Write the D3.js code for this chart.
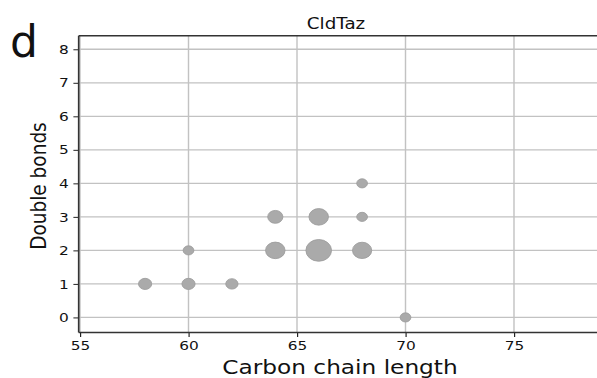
<!DOCTYPE html>
<html>
<head>
<meta charset="utf-8">
<script src="https://cdn.jsdelivr.net/npm/d3@7/dist/d3.min.js"></script>
<style>
  html, body { margin: 0; padding: 0; background: #fff; }
  svg { display: block; }
  text { font-family: "DejaVu Sans", sans-serif; fill: #111; }
</style>
</head>
<body>
<svg id="chart" width="597" height="378"></svg>
<script>
// Lipid species: carbon chain length, number of double bonds, relative abundance
const chainLength = [58, 60, 60, 62, 64, 64, 66, 66, 68, 68, 68, 70];
const doubleBonds = [1, 1, 2, 1, 2, 3, 2, 3, 2, 3, 4, 0];
const abundance   = [1.5, 1.5, 1.0, 1.3, 3.3, 2.0, 5.7, 3.3, 3.2, 1.0, 1.0, 1.0];

const xTicks = [55, 60, 65, 70, 75];
const yTicks = [0, 1, 2, 3, 4, 5, 6, 7, 8];
const panelLabel = "d";
const title = "CldTaz";
const xLabel = "Carbon chain length";
const yLabel = "Double bonds";

// The figure is drawn in an inner frame that is widened horizontally.
const sx = 1.18;
const svg = d3.select("#chart");
const root = svg.append("g").attr("transform", `scale(${sx},1)`);

const plotLeft = 78.7 / sx, plotRight = 610 / sx, plotTop = 35.7, plotBottom = 332.5;

const x = d3.scaleLinear().domain([54.94, 55 + (610 - 80) / 21.7]).range([plotLeft, plotRight]);
const y = d3.scaleLinear().domain([-0.45, 8.405]).range([plotBottom, plotTop]);
const r = d3.scaleSqrt().domain([0, 1]).range([0, 4.55]);

// Grid
const grid = root.append("g");
grid.selectAll("line.v").data(xTicks).join("line")
  .attr("x1", d => x(d)).attr("x2", d => x(d))
  .attr("y1", plotTop).attr("y2", plotBottom)
  .attr("stroke", "#c2c2c2").attr("stroke-width", 1.2);
grid.selectAll("line.h").data(yTicks).join("line")
  .attr("x1", plotLeft).attr("x2", plotRight)
  .attr("y1", d => y(d)).attr("y2", d => y(d))
  .attr("stroke", "#c2c2c2").attr("stroke-width", 1.3);

// Bubbles
const pts = chainLength.map((c, i) => ({ c, db: doubleBonds[i], a: abundance[i] }));
root.append("g").selectAll("circle").data(pts).join("circle")
  .attr("cx", d => x(d.c)).attr("cy", d => y(d.db)).attr("r", d => r(d.a))
  .attr("fill", "#aaaaaa").attr("stroke", "#9c9c9c").attr("stroke-width", 0.8);

// Axes
const xAxis = root.append("g").attr("transform", `translate(0,${plotBottom})`)
  .call(d3.axisBottom(x).tickValues(xTicks).tickSize(4.5).tickPadding(4).tickFormat(d3.format("d")));
const yAxis = root.append("g").attr("transform", `translate(${plotLeft},0)`)
  .call(d3.axisLeft(y).tickValues(yTicks).tickSize(4.5).tickPadding(4).tickFormat(d3.format("d")));
[xAxis, yAxis].forEach(a => {
  a.select(".domain").remove();
  a.selectAll(".tick line").attr("stroke", "#222").attr("stroke-width", 1);
  a.selectAll(".tick text").attr("font-size", 13).attr("font-family", "DejaVu Sans, sans-serif").attr("fill", "#111");
});

// Spines
root.append("line").attr("x1", plotLeft).attr("x2", plotRight).attr("y1", plotTop).attr("y2", plotTop)
  .attr("stroke", "#333").attr("stroke-width", 1.4);
root.append("line").attr("x1", plotLeft).attr("x2", plotRight).attr("y1", plotBottom).attr("y2", plotBottom)
  .attr("stroke", "#333").attr("stroke-width", 1.4);
root.append("line").attr("x1", plotLeft).attr("x2", plotLeft).attr("y1", plotTop).attr("y2", plotBottom)
  .attr("stroke", "#333").attr("stroke-width", 1.4);

// Titles
root.append("text").attr("x", 336 / sx).attr("y", 29).attr("text-anchor", "middle")
  .attr("font-size", 15.5).text(title);
root.append("text").attr("x", 340 / sx).attr("y", 374).attr("text-anchor", "middle")
  .attr("font-size", 19.7).text(xLabel);
root.append("text").attr("transform", `translate(${46 / sx},186) rotate(-90)`)
  .attr("text-anchor", "middle").attr("font-size", 18.5).text(yLabel);

// Panel letter
svg.append("text").attr("x", 10).attr("y", 57)
  .attr("font-family", "Liberation Sans, Arial, sans-serif").attr("font-size", 44).text(panelLabel);
</script>
</body>
</html>
